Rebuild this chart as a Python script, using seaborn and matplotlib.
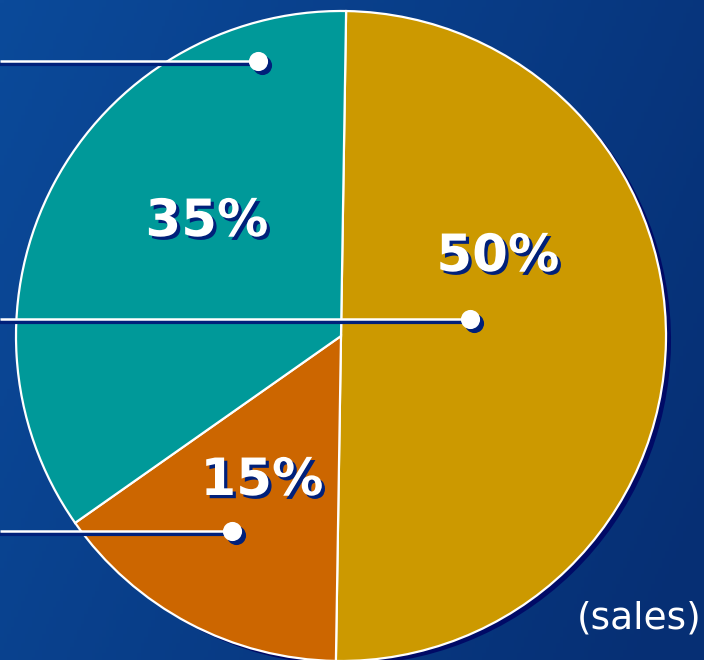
import numpy as np
import matplotlib
matplotlib.use("Agg")
import matplotlib.pyplot as plt
import matplotlib.patheffects as pe
import seaborn as sns

# pie data (clockwise from top)
labels = ["50%", "15%", "35%"]
shares = [50, 15, 35]
colors = ["#CC9900", "#CC6600", "#009999"]
unit_note = "(sales)"

sns.set_style("white")
plt.rcParams["font.family"] = ["DejaVu Sans"]

W, H = 704, 660
fig = plt.figure(figsize=(W / 100, H / 100), dpi=100)
ax = fig.add_axes([0, 0, 1, 1])

# background gradient, lighter top-left, darker bottom-right
gx, gy = np.meshgrid(np.linspace(0, 1, 200), np.linspace(0, 1, 200))
t = np.clip(0.75 * gx + 0.3 * gy, 0, 1)
c0 = np.array([0x0B, 0x4A, 0x9A]) / 255
c1 = np.array([0x06, 0x2F, 0x74]) / 255
img = c0[None, None, :] * (1 - t[..., None]) + c1[None, None, :] * t[..., None]
ax.imshow(img, extent=[0, W, 0, H], origin="upper", zorder=0, aspect="auto")

cx, cy, r = 341, 324, 325
shadow = "#000A66"

# pie shadow, then the pie itself
ax.pie(shares, colors=[shadow] * 3, startangle=89.1, counterclock=False,
       center=(cx + 5, cy - 4), radius=r, frame=True,
       wedgeprops=dict(linewidth=0))
ax.pie(shares, colors=colors, startangle=89.1, counterclock=False,
       center=(cx, cy), radius=r, frame=True,
       wedgeprops=dict(edgecolor="white", linewidth=1.6))
ax.set_xlim(0, W)
ax.set_ylim(0, H)
ax.set_aspect("equal")
ax.axis("off")

# leader lines with dots (pixel positions of the callouts)
leaders = [(258, H - 61), (470, H - 319), (232, H - 531)]
for x_end, y in leaders:
    ax.plot([0, x_end], [y - 3, y - 3], color="#00207A", lw=3, zorder=5,
            solid_capstyle="butt")
    ax.plot([0, x_end], [y, y], color="white", lw=1.8, zorder=6,
            solid_capstyle="butt")
    ax.scatter([x_end + 4], [y - 4], s=190, color="#00207A", zorder=7, linewidths=0)
    ax.scatter([x_end], [y], s=190, color="white", zorder=8, linewidths=0)

# percentage labels with shadow
label_pos = [(498, H - 257), (262, H - 481), (207, H - 222)]
shadow_fx = [pe.withSimplePatchShadow(offset=(2.3, -2.3), shadow_rgbFace="#00207A",
                                      alpha=1.0)]
for lab, (lx, ly) in zip(labels, label_pos):
    ax.text(lx, ly, lab, color="white", fontsize=37, fontweight="bold",
            ha="center", va="center", zorder=10, path_effects=shadow_fx)

ax.text(701, H - 619, unit_note, color="white", fontsize=27, ha="right",
        va="center", zorder=10)

fig.savefig("out.png", dpi=100)
